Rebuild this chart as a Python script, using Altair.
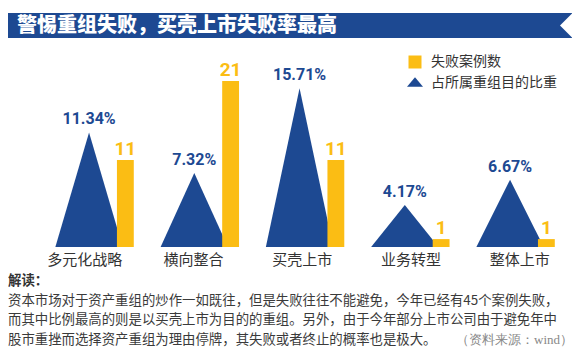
import altair as alt
import pandas as pd

# ---- data ----
categories = ["多元化战略", "横向整合", "买壳上市", "业务转型", "整体上市"]
share_pct = [11.34, 7.32, 15.71, 4.17, 6.67]
share_labels = ["11.34%", "7.32%", "15.71%", "4.17%", "6.67%"]
fail_counts = [11, 21, 11, 1, 1]

title_text = "警惕重组失败，买壳上市失败率最高"
legend_labels = ["失败案例数", "占所属重组目的比重"]
note_title = "解读："
note_lines = [
    "资本市场对于资产重组的炒作一如既往，但是失败往往不能避免，今年已经有45个案例失败，",
    "而其中比例最高的则是以买壳上市为目的的重组。另外，由于今年部分上市公司由于避免年中",
    "股市重挫而选择资产重组为理由停牌，其失败或者终止的概率也是极大。",
]
source_text = "（资料来源：wind）"

BLUE = "#1d4992"
YELLOW = "#fbbd14"
TEXT = "#333333"
CJK = "Noto Sans CJK SC"
NUM = "Roboto, sans-serif"

df = pd.DataFrame({
    "cat": categories,
    "idx": list(range(len(categories))),
    "share": share_pct,
    "share_label": share_labels,
    "count": fail_counts,
})

xscale = alt.Scale(domain=[-0.77, 4.636], nice=False, zero=False)
yshare = alt.Scale(domain=[0, 20], range=[239, 37], nice=False)
ycount = alt.Scale(domain=[0, 25], range=[239, 41.5], nice=False)

base = alt.Chart(df)

tri = base.transform_calculate(offs="[-1, 0, 1]").transform_flatten(["offs"]).transform_calculate(
    tx="datum.idx + datum.offs * 0.32",
    ty="datum.offs == 0 ? datum.share : 0",
).mark_area(color=BLUE, opacity=1).encode(
    x=alt.X("tx:Q", scale=xscale, axis=None),
    y=alt.Y("ty:Q", scale=yshare, axis=None, stack=None),
    detail="cat:N",
)

bars = base.transform_calculate(
    bx="datum.idx + 0.265", bx2="datum.idx + 0.425"
).mark_rect(color=YELLOW).encode(
    x=alt.X("bx:Q", scale=xscale, axis=None),
    x2="bx2:Q",
    y=alt.Y("count:Q", scale=ycount, axis=None),
    y2=alt.datum(0),
)

share_text = base.mark_text(
    font=NUM, fontWeight="bold", fontSize=16, color=BLUE, baseline="alphabetic", dy=-8
).encode(
    x=alt.X("idx:Q", scale=xscale, axis=None),
    y=alt.Y("share:Q", scale=yshare, axis=None),
    text="share_label:N",
)

count_text = base.transform_calculate(cx="datum.idx + 0.345").mark_text(
    font=NUM, fontWeight="bold", fontSize=19, color=YELLOW, baseline="alphabetic", dy=-5
).encode(
    x=alt.X("cx:Q", scale=xscale, axis=None),
    y=alt.Y("count:Q", scale=ycount, axis=None),
    text="count:Q",
)

cat_text = base.transform_calculate(lx="datum.idx * 1.0333 - 0.04").mark_text(
    font=CJK, fontSize=15, color=TEXT, baseline="middle"
).encode(
    x=alt.X("lx:Q", scale=xscale, axis=None),
    y=alt.value(252),
    text="cat:N",
)

one = pd.DataFrame({"k": [0]})

title_bar = alt.Chart(one).mark_rect(color=BLUE).encode(
    x=alt.value(0), x2=alt.value(564), y=alt.value(5), y2=alt.value(30)
)
notch = alt.Chart(one).mark_point(
    shape="M 0 0 L 1 -1 L 1 1 Z", size=625, filled=True, color="white", opacity=1, strokeWidth=0
).encode(x=alt.value(552), y=alt.value(17.5))
title_mark = alt.Chart(one).mark_text(
    text=title_text, font=CJK, fontWeight=900, fontSize=20, color="white",
    align="left", baseline="middle"
).encode(x=alt.value(9), y=alt.value(18))

leg_sq = alt.Chart(one).mark_square(size=169, color=YELLOW, opacity=1).encode(
    x=alt.value(407), y=alt.value(54)
)
leg_tri = alt.Chart(one).mark_point(
    shape="M -1 0.6 L 0 -0.6 L 1 0.6 Z", size=256, filled=True, color=BLUE, opacity=1, strokeWidth=0
).encode(x=alt.value(407), y=alt.value(74))
leg_t1 = alt.Chart(one).mark_text(
    text=legend_labels[0], font=CJK, fontSize=14, color=TEXT, align="left", baseline="middle"
).encode(x=alt.value(423), y=alt.value(54))
leg_t2 = alt.Chart(one).mark_text(
    text=legend_labels[1], font=CJK, fontSize=14, color=TEXT, align="left", baseline="middle"
).encode(x=alt.value(423), y=alt.value(74.5))

note_head = alt.Chart(one).mark_text(
    text=note_title, font=CJK, fontWeight="bold", fontSize=13.4, color=TEXT, align="left", baseline="middle"
).encode(x=alt.value(0), y=alt.value(273))

note_marks = []
for i, line in enumerate(note_lines):
    note_marks.append(
        alt.Chart(one).mark_text(
            text=line, font=CJK, fontSize=13.4, color="#3a3a3a", align="left", baseline="middle"
        ).encode(x=alt.value(0), y=alt.value(292.5 + 19.5 * i))
    )

source_mark = alt.Chart(one).mark_text(
    text=source_text, font="'Liberation Serif', serif", fontSize=13, color="#888888", align="right", baseline="middle"
).encode(x=alt.value(565), y=alt.value(331.5))

chart = alt.layer(
    tri, bars, share_text, count_text, cat_text,
    title_bar, notch, title_mark,
    leg_sq, leg_tri, leg_t1, leg_t2,
    note_head, *note_marks, source_mark,
).resolve_scale(y="independent").properties(
    width=569, height=344,
    autosize=alt.AutoSizeParams(type="none"),
    padding=0,
    background="white",
).configure_view(stroke=None)

chart.save("out.html", embed_options={"renderer": "svg", "actions": False})
